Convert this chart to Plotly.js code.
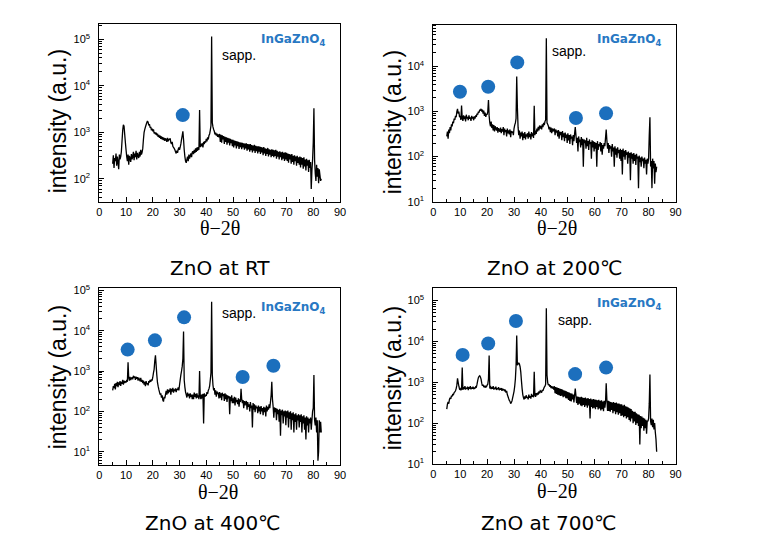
<!DOCTYPE html>
<html><head><meta charset="utf-8">
<script src="https://cdn.plot.ly/plotly-3.0.1.min.js"></script>
<style>html,body{margin:0;padding:0;background:#fff}#chart{width:775px;height:546px}</style>
</head><body><div id="chart"></div>
<script>
// scan angles (deg), shared by all four scans
const twoTheta = [
5,5.25,5.5,5.75,6,6.25,6.5,6.75,7,7.25,7.5,7.75,8,8.25,8.5,8.75,9,9.25,9.5,9.75,
10,10.25,10.5,10.75,11,11.25,11.5,11.75,12,12.25,12.5,12.75,13,13.25,13.5,13.75,14,14.25,14.5,14.75,
15,15.25,15.5,15.75,16,16.25,16.5,16.75,17,17.25,17.5,17.75,18,18.25,18.5,18.75,19,19.25,19.5,19.75,
20,20.25,20.5,20.75,21,21.25,21.5,21.75,22,22.25,22.5,22.75,23,23.25,23.5,23.75,24,24.25,24.5,24.75,
25,25.25,25.5,25.75,26,26.25,26.5,26.75,27,27.25,27.5,27.75,28,28.25,28.5,28.75,29,29.25,29.5,29.75,
30,30.25,30.5,30.75,31,31.25,31.5,31.75,32,32.25,32.5,32.75,33,33.25,33.5,33.75,34,34.25,34.5,34.75,
35,35.25,35.5,35.75,36,36.25,36.5,36.75,37,37.25,37.5,37.75,38,38.25,38.5,38.75,39,39.25,39.5,39.75,
40,40.25,40.5,40.75,41,41.25,41.5,41.75,42,42.25,42.5,42.75,43,43.25,43.5,43.75,44,44.25,44.5,44.75,
45,45.25,45.5,45.75,46,46.25,46.5,46.75,47,47.25,47.5,47.75,48,48.25,48.5,48.75,49,49.25,49.5,49.75,
50,50.25,50.5,50.75,51,51.25,51.5,51.75,52,52.25,52.5,52.75,53,53.25,53.5,53.75,54,54.25,54.5,54.75,
55,55.25,55.5,55.75,56,56.25,56.5,56.75,57,57.25,57.5,57.75,58,58.25,58.5,58.75,59,59.25,59.5,59.75,
60,60.25,60.5,60.75,61,61.25,61.5,61.75,62,62.25,62.5,62.75,63,63.25,63.5,63.75,64,64.25,64.5,64.75,
65,65.25,65.5,65.75,66,66.25,66.5,66.75,67,67.25,67.5,67.75,68,68.25,68.5,68.75,69,69.25,69.5,69.75,
70,70.25,70.5,70.75,71,71.25,71.5,71.75,72,72.25,72.5,72.75,73,73.25,73.5,73.75,74,74.25,74.5,74.75,
75,75.25,75.5,75.75,76,76.25,76.5,76.75,77,77.25,77.5,77.75,78,78.25,78.5,78.75,79,79.25,79.5,79.75,
80,80.25,80.5,80.75,81,81.25,81.5,81.75,82,82.25,82.5,82.75,83];

const intensityRT = [
210,320,170,280,240,350,190,300,230,160,330,260,300,380,650,1100,1450,1350,900,600,
420,300,240,330,200,310,270,230,340,260,300,380,250,350,290,400,260,360,310,280,
380,300,420,330,370,450,700,1000,1150,1300,1450,1600,1750,1650,1400,1500,1250,1300,1100,1200,
1050,1150,950,1000,900,980,860,940,800,880,760,850,720,820,700,790,680,760,650,740,
700,620,760,640,720,680,740,600,560,620,500,470,450,420,380,350,400,360,430,470,
420,480,560,700,850,1050,700,420,300,240,220,260,300,240,330,270,310,350,290,370,
390,340,420,360,450,380,470,400,480,420,3000,480,560,500,580,470,620,560,640,600,
720,640,780,700,850,920,1100,1400,115000,1600,1300,1150,1050,900,980,850,940,800,900,780,
920,620,880,600,860,700,830,560,800,620,780,540,760,600,740,520,720,580,700,500,
690,470,660,520,650,450,640,500,620,440,610,480,600,430,590,470,580,420,570,450,
580,400,560,430,550,380,560,410,530,370,520,400,540,360,510,390,500,350,500,380,
490,340,480,370,470,320,480,350,450,310,440,340,460,300,430,330,420,290,430,310,
420,290,410,310,420,270,400,300,380,260,390,290,370,250,380,270,360,240,370,260,
360,240,350,220,340,260,330,210,340,230,310,200,320,240,300,190,310,220,290,200,
300,175,290,200,280,165,290,185,260,150,270,190,250,140,255,170,230,60,150,260,
600,3300,250,130,90,200,110,170,80,160,120,90,100];

const intensity200 = [
280,360,250,400,330,450,380,520,470,600,550,700,650,800,750,1000,1150,900,1000,750,
800,650,1350,700,620,820,680,780,600,850,700,760,640,820,690,740,620,800,700,760,
640,780,700,820,760,900,850,1000,950,1100,1050,1150,1000,1100,900,1050,800,950,760,880,
850,1000,1800,800,560,470,600,430,520,380,500,360,470,420,380,450,340,430,380,360,
440,330,410,360,450,300,420,350,390,280,420,330,380,310,400,270,370,340,360,300,
420,500,560,700,6000,1200,450,300,380,250,340,280,360,230,330,260,350,240,310,280,
330,250,360,270,320,240,350,280,330,260,1350,300,380,320,420,360,460,380,490,420,
480,400,520,450,560,500,600,650,42000,560,520,480,400,460,350,440,330,420,360,400,
420,300,400,340,380,280,390,250,360,300,350,230,370,270,330,220,340,260,310,200,
330,230,300,190,310,250,280,180,300,220,320,450,300,200,260,130,280,210,240,160,
270,180,250,60,240,200,230,150,260,170,220,140,240,190,210,90,230,160,220,130,
210,150,200,60,220,140,190,170,210,130,200,110,180,150,200,170,260,400,230,150,
200,120,180,150,170,100,190,130,160,60,170,110,150,95,160,120,140,90,150,80,
140,40,150,100,135,85,140,110,125,70,130,95,120,30,125,90,115,70,120,80,
110,65,115,90,100,20,105,75,95,60,100,80,90,55,95,70,85,40,90,70,
90,300,750,60,80,20,90,55,80,25,70,45,60];

const intensity400 = [
330,420,380,480,350,500,420,540,400,520,450,560,430,540,480,600,460,580,500,560,
520,600,540,1650,680,580,720,600,650,700,620,760,680,740,600,720,640,700,580,680,
620,560,680,540,600,500,580,460,540,420,560,470,500,440,560,520,600,540,620,580,
700,900,1100,1800,2450,1400,800,520,420,350,300,260,280,220,250,190,175,230,210,260,
320,260,350,280,340,300,370,260,360,310,380,290,350,320,370,300,360,340,390,330,
450,600,800,1000,1300,2000,9500,600,400,300,260,220,290,240,270,210,280,230,260,200,
260,200,290,230,270,210,280,220,250,200,1000,230,200,260,210,270,50,280,230,260,
240,300,270,330,360,420,600,900,52000,800,450,330,380,260,330,230,310,270,290,210,
300,220,280,190,290,240,270,180,280,200,260,170,250,210,240,85,230,180,250,160,
210,160,230,140,220,170,190,150,210,130,200,170,360,200,160,190,120,180,140,170,
180,110,170,130,150,100,170,120,140,40,160,110,150,95,140,120,130,90,140,100,
130,85,135,100,120,80,130,95,125,75,140,100,130,110,150,120,170,250,540,200,
130,70,125,95,120,60,115,85,110,55,115,25,105,80,110,50,100,75,105,45,
100,70,105,40,95,65,100,35,90,60,95,30,85,55,90,35,80,60,85,40,
80,55,85,30,75,50,80,35,70,20,75,45,70,30,65,50,70,35,60,100,
120,790,60,45,70,30,60,6,10,60,30,55,30];

const intensity700 = [
220,290,330,300,380,420,390,470,450,520,500,560,580,620,700,850,1250,1000,800,680,
700,640,680,2300,650,760,680,800,660,740,700,780,640,760,690,800,670,750,700,780,
680,740,700,780,760,900,1100,1300,1400,1450,1350,1200,950,820,880,760,820,740,800,780,
850,900,1200,4500,700,820,680,760,700,800,660,740,690,780,650,720,680,760,640,700,
660,720,620,700,640,680,600,660,560,620,500,450,400,360,340,300,320,350,420,500,
600,800,1200,2500,14000,2600,2800,3000,2800,2400,1800,1100,700,500,420,380,450,400,480,420,
440,380,500,420,460,400,520,440,480,430,1800,480,440,540,480,560,500,600,540,620,
600,560,650,620,700,760,800,900,65000,1500,1000,850,900,780,850,720,800,700,780,660,
800,540,760,520,740,500,720,480,700,460,680,470,660,430,640,450,620,410,600,400,
580,370,560,350,540,340,530,380,500,320,480,700,470,310,450,280,440,300,430,270,
440,260,420,280,410,250,420,270,400,240,410,270,390,130,400,250,380,230,390,240,
380,220,370,250,360,215,370,230,350,205,360,220,340,195,350,240,330,950,380,200,
350,200,340,190,330,210,320,175,330,195,310,165,320,185,300,160,300,175,290,150,
290,155,270,140,280,150,260,130,250,140,240,120,230,110,220,130,200,100,190,110,
190,90,175,100,165,85,160,30,150,75,145,85,135,65,130,75,120,55,115,110,
130,300,1550,110,90,130,80,120,70,100,60,40,20];

// InGaZnO4 reflection markers (blue dots)
const dotsRT_x = [31.2];
const dotsRT_y = [2340];
const dots200_x = [9.9, 20.4, 31.2, 53.0, 64.2];
const dots200_y = [2750, 3550, 12300, 720, 910];
const dots400_x = [10.6, 20.8, 31.7, 53.6, 65.1];
const dots400_y = [3390, 5750, 21400, 710, 1350];
const dots700_x = [10.9, 20.4, 30.7, 52.7, 64.2];
const dots700_y = [4680, 8910, 31600, 1585, 2290];

const captions = ['ZnO at RT', 'ZnO at 200\u2103', 'ZnO at 400\u2103', 'ZnO at 700\u2103'];
const xTickVals = [0,10,20,30,40,50,60,70,80,90];
const yTickVals = [10,100,1000,10000,100000];
const yTickText = ['10<sup>1</sup>','10<sup>2</sup>','10<sup>3</sup>','10<sup>4</sup>','10<sup>5</sup>'];
const yTitle = 'intensity (a.u.)';
const xTitle = '\u03b8\u22122\u03b8';
const phaseLabel = 'InGaZnO<sub>4</sub>';
const substrateLabel = 'sapp.';

const series = [intensityRT, intensity200, intensity400, intensity700];
const dots = [[dotsRT_x,dotsRT_y],[dots200_x,dots200_y],[dots400_x,dots400_y],[dots700_x,dots700_y]];

// layout geometry (pixels)
const W = 775, H = 546;
const boxes = [
  {l:99.3, r:340,   t:24,    b:201.5, yr:[1.51,5.33]},
  {l:433.3,r:675.5, t:24.5,  b:201.7, yr:[1,4.93]},
  {l:99.3, r:340,   t:288.3, b:465,   yr:[0.67,5.05]},
  {l:433.3,r:675.5, t:288.3, b:464,   yr:[1,5.30]}
];
const yTitlePos = [[58.3,121],[393.3,122],[58.3,377],[393.3,378]];
const xTitlePos = [[220,228],[556.7,228],[218,491.5],[557,491]];
const capPos = [[220.4,268],[555,268],[213,523],[549,523]];
const sappPos = [[45.1,4.665],[43.4,4.35],[45.1,4.43],[45.6,4.52]];
const phasePos = [[85.3,4.99],[85.3,4.59],[85.3,4.56],[85.3,4.91]];

const px = p => p / W, py = p => 1 - p / H;
const tickFont = {family:'Liberation Sans, Arial, sans-serif', size:11, color:'#000'};

const data = [];
const layout = {
  width: W, height: H, margin:{l:0,r:0,t:0,b:0},
  paper_bgcolor:'#fff', plot_bgcolor:'#fff', showlegend:false,
  annotations: []
};

for (let i = 0; i < 4; i++) {
  const sfx = i === 0 ? '' : String(i+1);
  const b = boxes[i];
  data.push({x: twoTheta, y: series[i], xaxis:'x'+sfx, yaxis:'y'+sfx, type:'scatter', mode:'lines',
    line:{color:'#000', width:1.3, simplify:false}, hoverinfo:'skip'});
  data.push({x: dots[i][0], y: dots[i][1], xaxis:'x'+sfx, yaxis:'y'+sfx, type:'scatter', mode:'markers',
    marker:{color:'#1c6fbd', size:14}, hoverinfo:'skip'});
  layout['xaxis'+sfx] = {
    domain:[px(b.l), px(b.r)], anchor:'y'+sfx, range:[0,90], tickmode:'array', tickvals:xTickVals,
    ticks:'inside', ticklen:5, tickcolor:'#000', showline:true, linecolor:'#000', linewidth:1, mirror:true,
    showgrid:false, zeroline:false, tickfont:tickFont,
    minor:{ticks:'inside', ticklen:3, tickcolor:'#000', dtick:5, tick0:0, showgrid:false}
  };
  layout['yaxis'+sfx] = {
    domain:[py(b.b), py(b.t)], anchor:'x'+sfx, type:'log', range:b.yr, tickmode:'array',
    tickvals:yTickVals, ticktext:yTickText, ticks:'inside', ticklen:5, tickcolor:'#000',
    showline:true, linecolor:'#000', linewidth:1, mirror:true, showgrid:false, zeroline:false,
    tickfont:tickFont, ticklabelstandoff:6,
    minor:{ticks:'inside', ticklen:2.5, tickcolor:'#000', dtick:'D1', showgrid:false}
  };
  layout.annotations.push(
    {xref:'paper', yref:'paper', x:px(yTitlePos[i][0]), y:py(yTitlePos[i][1]), text:yTitle, textangle:-90,
     showarrow:false, xanchor:'center', yanchor:'middle', font:{family:'Liberation Sans, Arial, sans-serif', size:23, color:'#000'}},
    {xref:'paper', yref:'paper', x:px(xTitlePos[i][0]), y:py(xTitlePos[i][1]), text:xTitle,
     showarrow:false, xanchor:'center', yanchor:'middle', font:{family:'Liberation Serif, Times New Roman, serif', size:20, color:'#000'}},
    {xref:'paper', yref:'paper', x:px(capPos[i][0]), y:py(capPos[i][1]), text:captions[i],
     showarrow:false, xanchor:'center', yanchor:'middle', font:{family:'DejaVu Sans, sans-serif', size:20, color:'#000'}},
    {xref:'x'+sfx, yref:'y'+sfx, x:sappPos[i][0], y:sappPos[i][1], text:substrateLabel,
     showarrow:false, xanchor:'left', yanchor:'middle', font:{family:'Liberation Sans, Arial, sans-serif', size:14, color:'#000'}},
    {xref:'x'+sfx, yref:'y'+sfx, x:phasePos[i][0], y:phasePos[i][1], text:phaseLabel,
     showarrow:false, xanchor:'right', yanchor:'middle', font:{family:'DejaVu Sans, sans-serif', size:12, color:'#2878c3', weight:'bold'}}
  );
}

Plotly.newPlot('chart', data, layout, {staticPlot:true, displayModeBar:false});
</script></body></html>
